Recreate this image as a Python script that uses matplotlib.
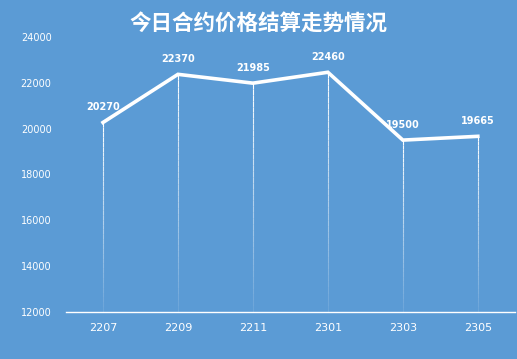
import numpy as np
import matplotlib.pyplot as plt
from matplotlib.collections import LineCollection

plt.rcParams['font.family'] = ['Noto Sans CJK SC', 'DejaVu Sans']

contracts = ['2207', '2209', '2211', '2301', '2303', '2305']
prices = [20270, 22370, 21985, 22460, 19500, 19665]
y_ticks = [12000, 14000, 16000, 18000, 20000, 22000, 24000]

bg = '#5B9BD5'

fig = plt.figure(figsize=(5.17, 3.59), dpi=100, facecolor=bg)
ax = fig.add_axes([0.1267, 0.131, 0.870, 0.766])
ax.set_facecolor(bg)

x = np.arange(len(contracts))
ymin, ymax = y_ticks[0], y_ticks[-1]

# drop lines fading towards the bottom
for xi, yi in zip(x, prices):
    ys = np.linspace(yi, ymin, 40)
    segs = [[(xi, ys[k]), (xi, ys[k + 1])] for k in range(len(ys) - 1)]
    alphas = np.linspace(1.0, 0.1, len(segs))
    cols = [(1, 1, 1, a) for a in alphas]
    ax.add_collection(LineCollection(segs, colors=cols, linewidths=0.8, zorder=2))

ax.plot(x, prices, color='white', lw=2.6, solid_joinstyle='miter', zorder=3)

for xi, yi in zip(x, prices):
    ax.annotate(str(yi), (xi, yi), xytext=(0, 7.5), textcoords='offset points',
                ha='center', va='bottom', color='white', fontsize=7,
                fontweight='bold', family='DejaVu Sans')

ax.set_xlim(-0.5, len(contracts) - 0.5)
ax.set_ylim(ymin, ymax)
ax.set_xticks(x)
ax.set_xticklabels(contracts)
ax.set_yticks(y_ticks)
ax.set_yticklabels([str(v) for v in y_ticks])
ax.tick_params(axis='both', length=0, colors='white')
ax.tick_params(axis='x', labelsize=8, pad=8)
ax.tick_params(axis='y', labelsize=7, pad=10)
for lbl in ax.get_xticklabels() + ax.get_yticklabels():
    lbl.set_family('DejaVu Sans')

for side in ['top', 'right', 'left']:
    ax.spines[side].set_visible(False)
ax.spines['bottom'].set_color('white')
ax.spines['bottom'].set_linewidth(1)

fig.text(0.5, 0.936, '今日合约价格结算走势情况', ha='center', va='center',
         color='white', fontsize=15.5, fontweight='bold')

fig.savefig('out.png', dpi=100, facecolor=bg)
